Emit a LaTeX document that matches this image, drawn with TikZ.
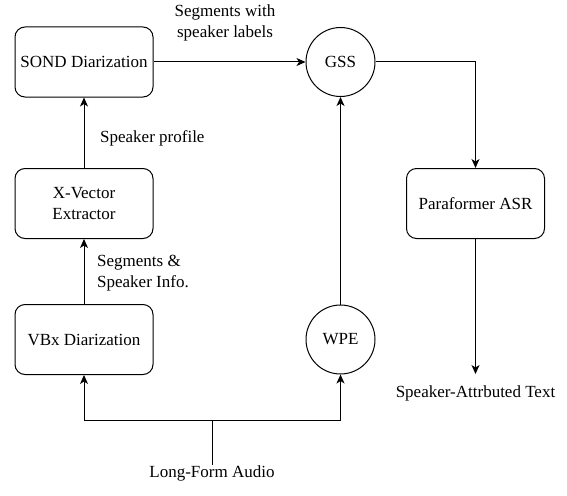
\documentclass[tikz,border=0pt]{standalone}
\usepackage{fontspec}
\setmainfont{Liberation Serif}
\newfontfamily\tnrfont{Liberation Serif}[Scale=1.0]
\usetikzlibrary{arrows.meta}
\begin{document}
\begin{tikzpicture}[x=1pt,y=-1pt,
  every node/.style={font=\rmfamily\fontsize{17}{21}\selectfont, inner sep=0pt},
  box/.style={draw, line width=1pt, rounded corners=10pt, minimum width=138pt, minimum height=70pt, align=center},
  circ/.style={draw, line width=1pt, circle, minimum size=69pt},
  lbl/.style={align=center},
  conn/.style={line width=1pt, -{Stealth[length=9pt,width=8pt,inset=2.5pt]}},
  plain/.style={line width=1pt}]
\useasboundingbox (0,0) rectangle (567,495);
\node[box] (sond) at (84,62) {SOND Diarization};
\node[box] (xvec) at (84,203.5) {X-Vector\\Extractor};
\node[box] (vbx) at (84,339.5) {VBx Diarization};
\node[circ] (gss) at (340.5,62) {GSS};
\node[circ] (wpe) at (340.5,339.5) {WPE};
\node[box] (asr) at (475.5,203.5) {Paraformer ASR};
\node[lbl] (out) at (475.5,393) {Speaker-Attrbuted Text};
\node[lbl] (in) at (212,473) {Long-Form Audio};
\node[lbl] (l1) at (225,23) {Segments with\\speaker labels};
\node[lbl, anchor=west] (l2) at (100,138) {Speaker profile};
\node[lbl, anchor=west, align=left] (l3) at (97,273) {Segments \&\\Speaker Info.};
\coordinate (j) at (212,420);
\coordinate (jin) at (212,465);
\coordinate (outtop) at (475.5,374);
\draw[conn] (sond) -- (gss);
\draw[conn] (xvec) -- (sond);
\draw[conn] (vbx) -- (xvec);
\draw[conn] (wpe) -- (gss);
\draw[conn] (gss.east) -| (asr.north);
\draw[conn] (asr.south) -- (outtop);
\draw[plain] (jin) -- (j);
\draw[conn] (j) -| (vbx.south);
\draw[conn] (j) -| (wpe.south);
\end{tikzpicture}
\end{document}
